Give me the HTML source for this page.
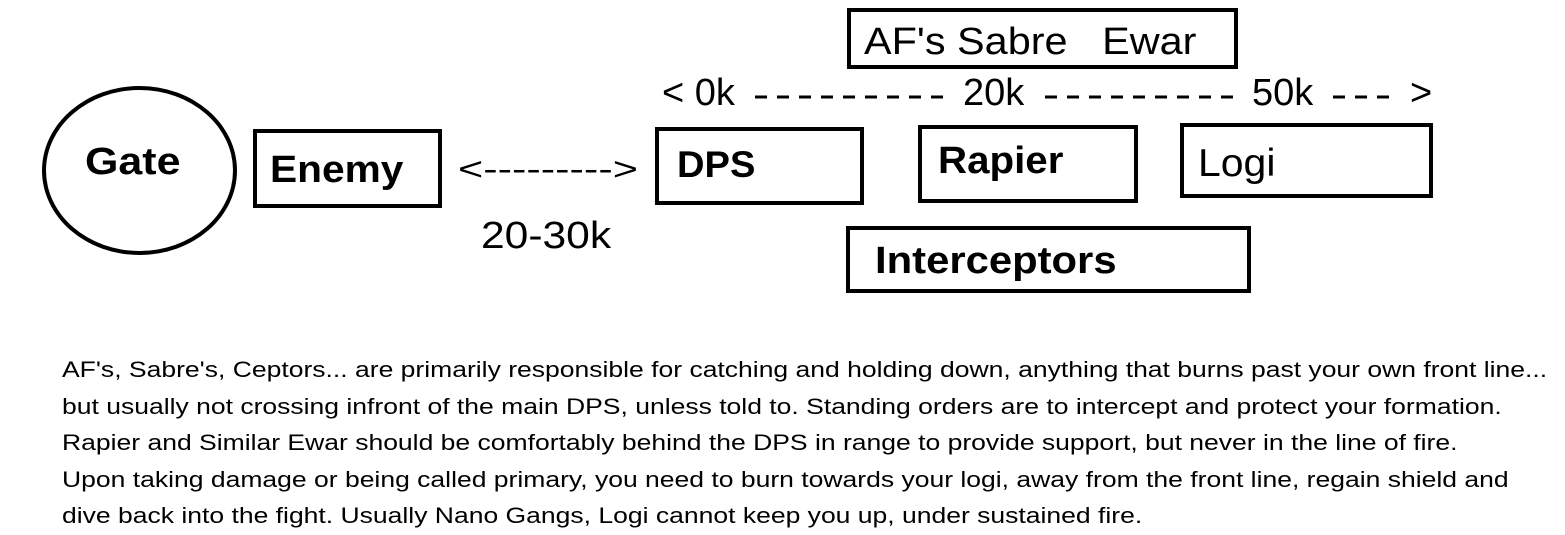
<!DOCTYPE html>
<html><head><meta charset="utf-8"><style>
body{margin:0;width:1565px;height:534px;background:#fff;position:relative;overflow:hidden;font-family:"Liberation Sans",sans-serif;color:#000}
.b{position:absolute;border:4px solid #000;box-sizing:border-box}
.t{position:absolute;white-space:nowrap;line-height:1;transform-origin:0 0}
.bold{font-weight:bold}
.body{position:absolute;left:62px;top:352px;font-size:22px;line-height:36.5px;white-space:nowrap;transform:scaleX(1.205);transform-origin:0 0}
</style></head><body>
<div class="b" style="left:42px;top:86px;width:195px;height:169px;border-radius:50%"></div>
<div class="t bold" style="left:85px;top:143px;font-size:38px;transform:scaleX(1.13)">Gate</div>
<div class="b" style="left:253px;top:129px;width:189px;height:79px"></div>
<div class="t bold" style="left:270px;top:151px;font-size:38px;transform:scaleX(1.07)">Enemy</div>
<div class="t" style="left:458px;top:153px;font-size:32px;transform:scaleX(1.35)">&lt;---------&gt;</div>
<div class="t" style="left:481px;top:217px;font-size:38px;transform:scaleX(1.12)">20-30k</div>
<div class="b" style="left:847px;top:8px;width:391px;height:61px"></div>
<div class="t" style="left:864px;top:23px;font-size:38px;transform:scaleX(1.09)">AF's Sabre&nbsp;&nbsp; Ewar</div>
<div class="t" style="left:662px;top:74px;font-size:38px">&lt; 0k</div>
<div class="t" style="left:963px;top:74px;font-size:38px">20k</div>
<div class="t" style="left:1252px;top:74px;font-size:38px">50k</div>
<div class="t" style="left:1410px;top:74px;font-size:38px">&gt;</div>
<svg style="position:absolute;left:0;top:0" width="1565" height="534">
<line x1="755" y1="97" x2="945" y2="97" stroke="#000" stroke-width="3" stroke-dasharray="12 10"/>
<line x1="1045" y1="97" x2="1235" y2="97" stroke="#000" stroke-width="3" stroke-dasharray="12 10"/>
<line x1="1333" y1="97" x2="1399" y2="97" stroke="#000" stroke-width="3" stroke-dasharray="12 10"/>
</svg>
<div class="b" style="left:655px;top:127px;width:209px;height:78px"></div>
<div class="t bold" style="left:677px;top:146px;font-size:37px;transform:scaleX(1.03)">DPS</div>
<div class="b" style="left:918px;top:125px;width:220px;height:78px"></div>
<div class="t bold" style="left:938px;top:142px;font-size:38px;transform:scaleX(1.06)">Rapier</div>
<div class="b" style="left:1180px;top:123px;width:253px;height:75px"></div>
<div class="t" style="left:1198px;top:144px;font-size:39px;transform:scaleX(1.05)">Logi</div>
<div class="b" style="left:846px;top:226px;width:405px;height:67px"></div>
<div class="t bold" style="left:875px;top:242px;font-size:38px;transform:scaleX(1.1)">Interceptors</div>
<div class="body">AF's, Sabre's, Ceptors... are primarily responsible for catching and holding down, anything that burns past your own front line...<br>but usually not crossing infront of the main DPS, unless told to. Standing orders are to intercept and protect your formation.<br>Rapier and Similar Ewar should be comfortably behind the DPS in range to provide support, but never in the line of fire.<br>Upon taking damage or being called primary, you need to burn towards your logi, away from the front line, regain shield and<br>dive back into the fight. Usually Nano Gangs, Logi cannot keep you up, under sustained fire.</div>
</body></html>
